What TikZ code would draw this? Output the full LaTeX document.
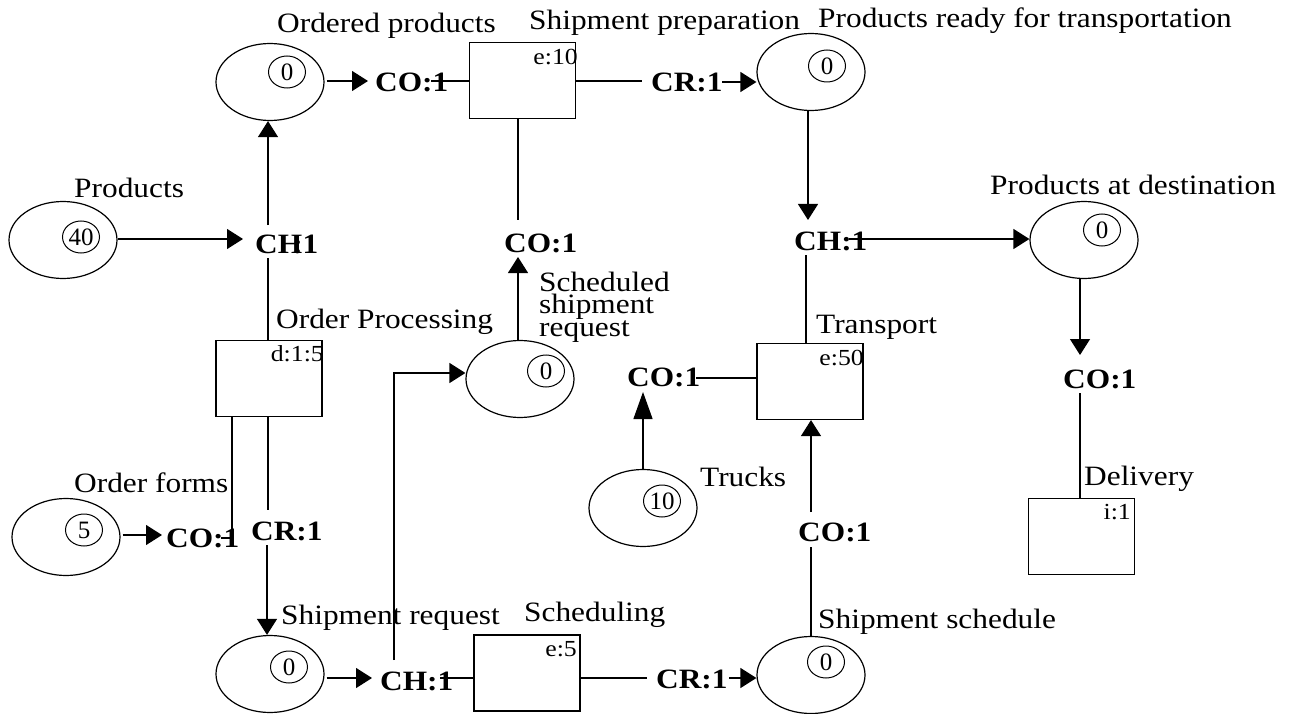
\documentclass[tikz,border=0pt]{standalone}
\usepackage{fontspec}
\setmainfont[FakeStretch=1.12]{Liberation Serif}
\newfontfamily\smallfam{Liberation Serif}
\usetikzlibrary{shapes.geometric,arrows.meta}
\begin{document}
\begin{tikzpicture}[x=1pt,y=-1pt,
  place/.style={ellipse, draw, line width=1.2pt, minimum width=108pt, minimum height=77pt, inner sep=0pt},
  token/.style={ellipse, draw, line width=1pt, minimum width=37pt, minimum height=32pt, inner sep=0pt, font=\smallfam\fontsize{25}{25}\selectfont},
  trans/.style={rectangle, draw, line width=1.2pt, minimum width=106pt, minimum height=76pt, inner sep=0pt},
  lbl/.style={anchor=base west, inner sep=0pt, font=\fontsize{28}{23}\selectfont},
  insc/.style={anchor=base west, inner sep=0pt, font=\fontsize{28}{28}\selectfont\bfseries},
  small/.style={anchor=base east, inner sep=0pt, font=\fontsize{23}{23}\selectfont},
  arr/.style={line width=1.2pt, -{Triangle[length=16pt,width=20pt]}},
  longarr/.style={line width=1.2pt, -{Triangle[length=27pt,width=19pt]}},
  ln/.style={line width=1.2pt}]
\useasboundingbox (0,0) rectangle (1298,714);

% places
\node[place] (p1) at (270,82) {};
\node[token] (p1t) at (287,72) {0};
\node[lbl] (p1l) at (277,33) {Ordered products};

\node[place] (p2) at (811,72) {};
\node[token] (p2t) at (827,66) {0};
\node[lbl] (p2l) at (818,28) {Products ready for transportation};

\node[place] (p3) at (63,240) {};
\node[token] (p3t) at (81,237) {40};
\node[lbl] (p3l) at (74,198) {Products};

\node[place] (p4) at (1084,240) {};
\node[token] (p4t) at (1102,230) {0};
\node[lbl] (p4l) at (990,195) {Products at destination};

\node[place] (p5) at (520,379) {};
\node[token] (p5t) at (546,371) {0};
\node[lbl] (p5l1) at (539,291) {Scheduled};
\node[lbl] (p5l2) at (539,313) {shipment};
\node[lbl] (p5l3) at (539,336) {request};

\node[place] (p6) at (643,508) {};
\node[token] (p6t) at (662,501) {10};
\node[lbl] (p6l) at (700,486) {Trucks};

\node[place] (p7) at (66,537) {};
\node[token] (p7t) at (84,530) {5};
\node[lbl] (p7l) at (74,492) {Order forms};

\node[place] (p8) at (270,674) {};
\node[token] (p8t) at (289,667) {0};
\node[lbl] (p8l) at (281,624) {Shipment request};

\node[place] (p9) at (811,675) {};
\node[token] (p9t) at (826,662) {0};
\node[lbl] (p9l) at (818,628) {Shipment schedule};

% transitions
\node[trans] (t1) at (522.5,80.5) {};
\node[small] (t1s) at (578,65) {e:10};
\node[lbl] (t1l) at (529,30) {Shipment preparation};

\node[trans] (t2) at (269,378.5) {};
\node[small] (t2s) at (324,361) {d:1:5};
\node[lbl] (t2l) at (276,328) {Order Processing};

\node[trans] (t3) at (810,381.5) {};
\node[small] (t3s) at (864,365) {e:50};
\node[lbl] (t3l) at (816,333) {Transport};

\node[trans] (t4) at (1081.5,536.5) {};
\node[small] (t4s) at (1131,519) {i:1};
\node[lbl] (t4l) at (1084,485) {Delivery};

\node[trans] (t5) at (527,673) {};
\node[small] (t5s) at (577,656) {e:5};
\node[lbl] (t5l) at (524,621) {Scheduling};

% arc inscriptions
\node[insc] (a1) at (375,92) {CO:1};
\node[insc] (a2) at (651,92) {CR:1};
\node[insc] (a3) at (255,253) {CH\kern-10pt:1};
\node[insc] (a4) at (504,252) {CO:1};
\node[insc] (a5) at (794,250) {CH:1};
\node[insc] (a6) at (1063,388) {CO:1};
\node[insc] (a7) at (627,386) {CO:1};
\node[insc] (a8) at (798,541) {CO:1};
\node[insc] (a9) at (656,688) {CR:1};
\node[insc] (a10) at (380,690) {CH:1};
\node[insc] (a11) at (166,547) {CO:1};
\node[insc] (a12) at (251,540) {CR:1};

% connector end points
\coordinate (c1a) at (368,81);
\coordinate (c1b) at (431,81);
\coordinate (c2a) at (642,81);
\coordinate (c2b) at (722,82);
\coordinate (c3a) at (243,239);
\coordinate (c3b) at (268,258);
\coordinate (c3c) at (268,225);
\coordinate (c4a) at (518,220);
\coordinate (c4b) at (518,257);
\coordinate (c5a) at (808,220);
\coordinate (c5b) at (849,239);
\coordinate (c5c) at (806,255);
\coordinate (c6a) at (1080,355);
\coordinate (c6b) at (1080,393);
\coordinate (c7a) at (696,378);
\coordinate (c7b) at (643,392);
\coordinate (c8a) at (811,547);
\coordinate (c8b) at (811,512);
\coordinate (c9a) at (647,678);
\coordinate (c9b) at (729,678);
\coordinate (c10a) at (372,678);
\coordinate (c10b) at (440,678);
\coordinate (c10c) at (394,660);
\coordinate (c10d) at (394,373);
\coordinate (c11a) at (162,535);
\coordinate (c11b) at (232,538);
\coordinate (c11c) at (221,538);
\coordinate (c12a) at (268,510);
\coordinate (c12b) at (267,545);

% connectors
\draw[arr] (c1a -| p1.east) ++(2,0) -- (c1a);
\draw[ln] (c1b -| t1.west) -- (c1b);
\draw[ln] (c2a -| t1.east) -- (c2a);
\draw[arr] (c2b) -- (c2b -| p2.west);
\draw[arr] (c3a -| p3.east) -- (c3a);
\draw[ln] (c3b |- t2.north) -- (c3b);
\draw[arr] (c3c) -- (c3c |- p1.south);
\draw[ln] (c4a |- t1.south) -- (c4a);
\draw[arr] (c4b |- p5.north) -- (c4b);
\draw[arr] (c5a |- p2.south) -- (c5a);
\draw[arr] (c5b) -- (c5b -| p4.west);
\draw[ln] (c5c |- t3.north) -- (c5c);
\draw[arr] (c6a |- p4.south) -- (c6a);
\draw[ln] (c6b) -- (c6b |- t4.north);
\draw[ln] (c7a -| t3.west) -- (c7a);
\draw[longarr] (c7b |- p6.north) -- (c7b);
\draw[ln] (c8a |- p9.north) -- (c8a);
\draw[arr] (c8b) -- (c8b |- t3.south);
\draw[ln] (c9a -| t5.east) -- (c9a);
\draw[arr] (c9b) -- (c9b -| p9.west);
\draw[arr] (c10a -| p8.east) ++(2,0) -- (c10a);
\draw[ln] (c10b -| t5.west) -- (c10b);
\draw[arr] (c10c) -- (c10d) -- (c10d -| p5.west);
\draw[arr] (c11a -| p7.east) ++(2,0) -- (c11a);
\draw[ln] (c11b |- t2.south) -- (c11b) -- (c11c);
\draw[ln] (c12a |- t2.south) -- (c12a);
\draw[arr] (c12b) -- (c12b |- p8.north);
\end{tikzpicture}
\end{document}
